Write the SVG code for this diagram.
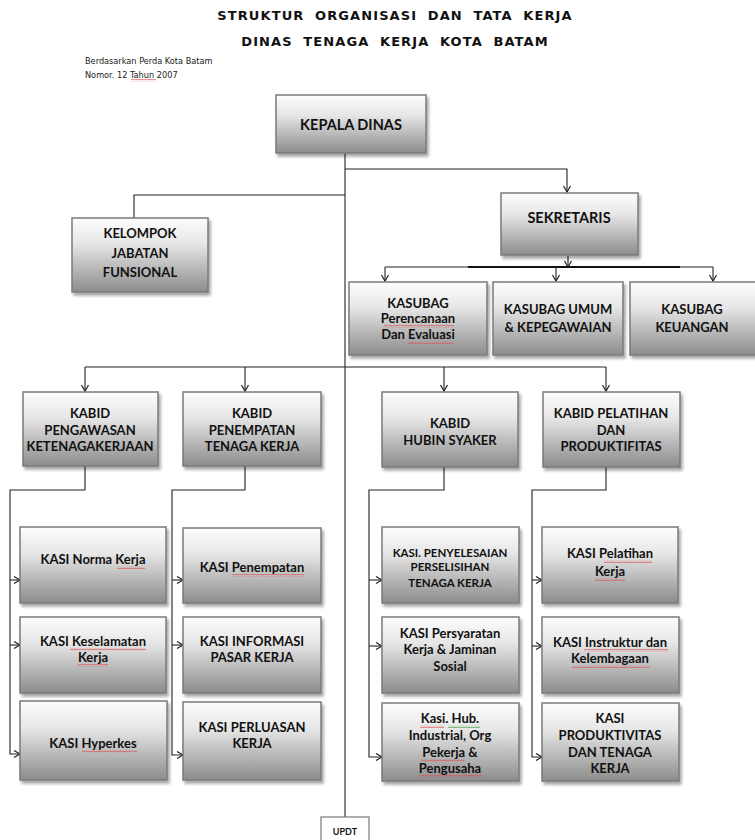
<svg xmlns="http://www.w3.org/2000/svg" width="755" height="840" viewBox="0 0 755 840">
<defs>
<linearGradient id="g" x1="0" y1="0" x2="0" y2="1">
<stop offset="0" stop-color="#fdfdfd"/>
<stop offset="0.35" stop-color="#e6e6e6"/>
<stop offset="1" stop-color="#8c8c8c"/>
</linearGradient>
<filter id="sh" x="-10%" y="-10%" width="130%" height="140%">
<feDropShadow dx="2" dy="3" stdDeviation="1.5" flood-color="#000" flood-opacity="0.35"/>
</filter>
<marker id="ar" markerWidth="10" markerHeight="10" refX="7" refY="4" orient="auto" markerUnits="userSpaceOnUse">
<path d="M1,0.5 L7,4 L1,7.5" fill="none" stroke="#222" stroke-width="1.2"/>
</marker>
<pattern id="wr" width="3" height="3" patternUnits="userSpaceOnUse">
<path d="M0,2.2 L0.75,0.8 L1.5,2.2 L2.25,0.8 L3,2.2" fill="none" stroke="#e05050" stroke-width="0.6"/>
</pattern>
<pattern id="wgr" width="3" height="3" patternUnits="userSpaceOnUse">
<path d="M0,2.2 L0.75,0.8 L1.5,2.2 L2.25,0.8 L3,2.2" fill="none" stroke="#40a040" stroke-width="0.6"/>
</pattern>
</defs>
<style>
.box{fill:url(#g);stroke:#7a7a7a;stroke-width:1.5;filter:url(#sh)}
.t{font-family:Lato,"Liberation Sans",sans-serif;font-weight:bold;font-size:13px;fill:#111;text-anchor:middle}
.big{font-size:14.5px}
.sm{font-size:11.5px}
.c{fill:none;stroke:#222;stroke-width:1.1}
.ca{fill:none;stroke:#222;stroke-width:1.1;marker-end:url(#ar)}
.title{font-family:"DejaVu Sans",Verdana,sans-serif;font-weight:bold;font-size:13px;fill:#111;text-anchor:middle;letter-spacing:1.1px;word-spacing:5px}
.sub{font-family:"DejaVu Sans",Tahoma,sans-serif;font-size:8.2px;fill:#222}
.wr{fill:url(#wr)}
.wg{fill:url(#wgr)}
</style>
<rect width="755" height="840" fill="#fff"/>

<g id="title">
<text class="title" x="395" y="20">STRUKTUR ORGANISASI DAN TATA KERJA</text>
<text class="title" x="395" y="46">DINAS TENAGA KERJA KOTA BATAM</text>
<text class="sub" x="85" y="64">Berdasarkan Perda Kota Batam</text>
<text class="sub" x="85" y="78">Nomor. 12 Tahun 2007</text>
<rect class="wr" x="131" y="79" width="25" height="3"/>
</g>

<g id="connectors">
<path class="c" d="M345,153 V817"/>
<path class="ca" d="M345,169 H567 V192"/>
<path class="c" d="M345,195 H134 V218"/>
<path class="ca" d="M568,255 V267"/>
<path class="c" d="M385,267 H713"/>
<path d="M468,267 H680" stroke="#111" stroke-width="2.2"/>
<path class="ca" d="M385,267 V281"/>
<path class="ca" d="M556,267 V281"/>
<path class="ca" d="M713,267 V281"/>
<path class="c" d="M85,367 H606"/>
<path class="ca" d="M85,367 V391"/>
<path class="ca" d="M245,367 V391"/>
<path class="ca" d="M444,367 V391"/>
<path class="ca" d="M606,367 V391"/>
<path class="ca" d="M85,466 V490 H10 V754 H20"/>
<path class="ca" d="M10,580 H20"/>
<path class="ca" d="M10,645 H20"/>
<path class="ca" d="M245,466 V490 H172 V755 H183"/>
<path class="ca" d="M172,580 H183"/>
<path class="ca" d="M172,645 H183"/>
<path class="ca" d="M444,467 V490 H369 V757 H382"/>
<path class="ca" d="M369,580 H382"/>
<path class="ca" d="M369,646 H382"/>
<path class="ca" d="M606,467 V490 H532 V757 H542"/>
<path class="ca" d="M532,580 H542"/>
<path class="ca" d="M532,646 H542"/>
</g>

<g id="kepala-dinas">
<rect class="box" x="276" y="95" width="150" height="58"/>
<text class="t big" x="351" y="130">KEPALA DINAS</text>
</g>

<g id="kelompok-jabatan">
<rect class="box" x="72" y="218" width="136" height="74"/>
<text class="t" x="140" y="238">KELOMPOK</text>
<text class="t" x="140" y="258">JABATAN</text>
<text class="t" x="140" y="277">FUNSIONAL</text>
</g>

<g id="sekretaris">
<rect class="box" x="501" y="193" width="137" height="62"/>
<text class="t big" x="569" y="223">SEKRETARIS</text>
</g>

<g id="kasubag-perencanaan">
<rect class="box" x="349" y="282" width="138" height="73"/>
<text class="t" x="418" y="308">KASUBAG</text>
<text class="t" x="418" y="323">Perencanaan</text>
<text class="t" x="418" y="339">Dan Evaluasi</text>
<rect class="wr" x="384" y="325" width="70" height="3"/>
<rect class="wr" x="408" y="341" width="46" height="3"/>
</g>

<g id="kasubag-umum">
<rect class="box" x="493" y="282" width="130" height="73"/>
<text class="t" x="558" y="314">KASUBAG UMUM</text>
<text class="t" x="558" y="332">&amp; KEPEGAWAIAN</text>
</g>

<g id="kasubag-keuangan">
<rect class="box" x="630" y="282" width="130" height="73"/>
<text class="t" x="692" y="314">KASUBAG</text>
<text class="t" x="692" y="332">KEUANGAN</text>
</g>

<g id="kabid-pengawasan">
<rect class="box" x="23" y="392" width="135" height="74"/>
<text class="t" x="90" y="418">KABID</text>
<text class="t" x="90" y="435">PENGAWASAN</text>
<text class="t" x="90" y="451">KETENAGAKERJAAN</text>
</g>

<g id="kabid-penempatan">
<rect class="box" x="183" y="392" width="138" height="74"/>
<text class="t" x="252" y="418">KABID</text>
<text class="t" x="252" y="435">PENEMPATAN</text>
<text class="t" x="252" y="451">TENAGA KERJA</text>
</g>

<g id="kabid-hubin">
<rect class="box" x="382" y="392" width="136" height="75"/>
<text class="t" x="450" y="428">KABID</text>
<text class="t" x="450" y="445">HUBIN SYAKER</text>
</g>

<g id="kabid-pelatihan">
<rect class="box" x="543" y="392" width="137" height="75"/>
<text class="t" x="611" y="418">KABID PELATIHAN</text>
<text class="t" x="611" y="435">DAN</text>
<text class="t" x="611" y="451">PRODUKTIFITAS</text>
</g>

<g id="kasi-norma">
<rect class="box" x="20" y="527" width="146" height="76"/>
<text class="t" x="93" y="564">KASI Norma Kerja</text>
<rect class="wr" x="117" y="566" width="28" height="3"/>
</g>
<g id="kasi-keselamatan">
<rect class="box" x="20" y="617" width="146" height="76"/>
<text class="t" x="93" y="646">KASI Keselamatan</text>
<text class="t" x="93" y="662">Kerja</text>
<rect class="wr" x="70" y="648" width="76" height="3"/>
<rect class="wr" x="78" y="664" width="30" height="3"/>
</g>
<g id="kasi-hyperkes">
<rect class="box" x="20" y="701" width="147" height="79"/>
<text class="t" x="93" y="748">KASI Hyperkes</text>
<rect class="wr" x="82" y="750" width="55" height="3"/>
</g>

<g id="kasi-penempatan">
<rect class="box" x="183" y="528" width="138" height="75"/>
<text class="t" x="252" y="572">KASI Penempatan</text>
<rect class="wr" x="232" y="574" width="72" height="3"/>
</g>
<g id="kasi-informasi">
<rect class="box" x="183" y="617" width="138" height="76"/>
<text class="t" x="252" y="646">KASI INFORMASI</text>
<text class="t" x="252" y="662">PASAR KERJA</text>
</g>
<g id="kasi-perluasan">
<rect class="box" x="183" y="702" width="138" height="78"/>
<text class="t" x="252" y="732">KASI PERLUASAN</text>
<text class="t" x="252" y="748">KERJA</text>
</g>

<g id="kasi-penyelesaian">
<rect class="box" x="382" y="527" width="137" height="76"/>
<text class="t sm" x="450" y="557">KASI. PENYELESAIAN</text>
<text class="t sm" x="450" y="571">PERSELISIHAN</text>
<text class="t sm" x="450" y="587">TENAGA KERJA</text>
</g>
<g id="kasi-persyaratan">
<rect class="box" x="382" y="617" width="137" height="76"/>
<text class="t" x="450" y="638">KASI Persyaratan</text>
<text class="t" x="450" y="654">Kerja &amp; Jaminan</text>
<text class="t" x="450" y="671">Sosial</text>
</g>
<g id="kasi-hub-industrial">
<rect class="box" x="382" y="703" width="137" height="78"/>
<text class="t" x="450" y="723">Kasi. Hub.</text>
<text class="t" x="450" y="740">Industrial, Org</text>
<text class="t" x="450" y="757">Pekerja &amp;</text>
<text class="t" x="450" y="773">Pengusaha</text>
<rect class="wr" x="420" y="725" width="24" height="3"/>
<rect class="wg" x="448" y="725" width="32" height="3"/>
<rect class="wr" x="421" y="759" width="44" height="3"/>
<rect class="wr" x="419" y="775" width="63" height="3"/>
</g>

<g id="kasi-pelatihan">
<rect class="box" x="542" y="527" width="136" height="76"/>
<text class="t" x="610" y="558">KASI Pelatihan</text>
<text class="t" x="610" y="576">Kerja</text>
<rect class="wr" x="604" y="560" width="48" height="3"/>
<rect class="wr" x="595" y="578" width="30" height="3"/>
</g>
<g id="kasi-instruktur">
<rect class="box" x="542" y="617" width="137" height="76"/>
<text class="t" x="610" y="647">KASI Instruktur dan</text>
<text class="t" x="610" y="663">Kelembagaan</text>
<rect class="wr" x="584" y="649" width="84" height="3"/>
<rect class="wr" x="572" y="665" width="78" height="3"/>
</g>
<g id="kasi-produktivitas">
<rect class="box" x="542" y="703" width="137" height="78"/>
<text class="t" x="610" y="723">KASI</text>
<text class="t" x="610" y="740">PRODUKTIVITAS</text>
<text class="t" x="610" y="757">DAN TENAGA</text>
<text class="t" x="610" y="773">KERJA</text>
</g>

<g id="updt">
<rect x="321" y="817" width="48" height="30" fill="#fff" stroke="#7a7a7a" stroke-width="1.2"/>
<text class="t" x="345" y="835" style="font-size:9px">UPDT</text>
</g>
</svg>
